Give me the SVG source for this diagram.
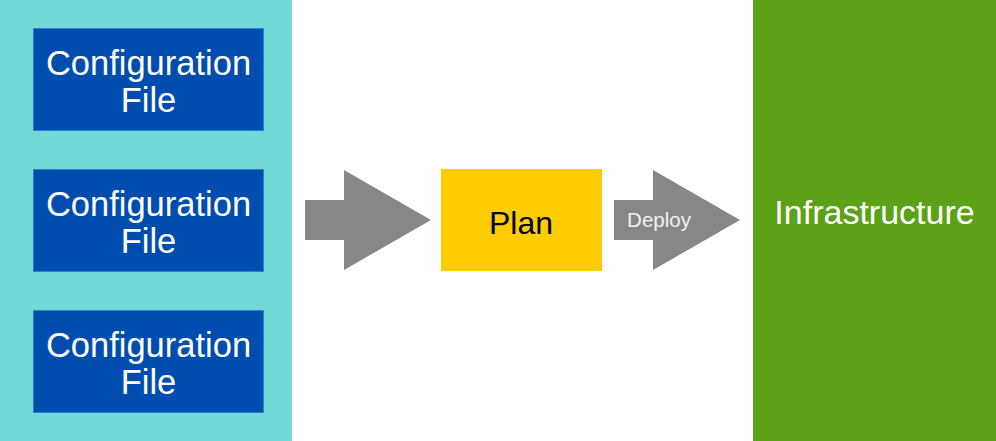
<svg xmlns="http://www.w3.org/2000/svg" width="996" height="441" viewBox="0 0 996 441">
<style>
text{font-family:"Liberation Sans",Arial,sans-serif;text-anchor:middle}
.cfg rect{fill:#004DAF;stroke:#2F7FC8;stroke-width:1}
.cfg text{fill:#fff;font-size:34.5px}
.arrow{fill:#878787}
</style>
<rect width="996" height="441" fill="#fff"/>
<g id="sources">
<rect x="0" y="0" width="292" height="441" fill="#72D9D9"/>
</g>
<g id="config1" class="cfg">
<rect x="33.5" y="28.5" width="230" height="102"/>
<text x="148.5" y="74.5">Configuration</text>
<text x="148.5" y="111.5">File</text>
</g>
<g id="config2" class="cfg">
<rect x="33.5" y="169.5" width="230" height="102"/>
<text x="148.5" y="215.5">Configuration</text>
<text x="148.5" y="252.5">File</text>
</g>
<g id="config3" class="cfg">
<rect x="33.5" y="310.5" width="230" height="102"/>
<text x="148.5" y="356.5">Configuration</text>
<text x="148.5" y="393.5">File</text>
</g>
<g id="connectors">
<polygon class="arrow" points="305,200 344,200 344,170 431,220 344,270 344,240 305,240"/>
<g id="deploy">
<polygon class="arrow" points="614,200 653,200 653,170 740,220 653,270 653,240 614,240"/>
<text x="659" y="227" fill="#F2F2F2" font-size="20.5px">Deploy</text>
</g>
</g>
<g id="plan">
<rect x="441" y="169" width="161" height="102" fill="#FFCC00"/>
<text x="521" y="234" fill="#000" font-size="32px">Plan</text>
</g>
<g id="infrastructure">
<rect x="753" y="0" width="243" height="441" fill="#5BA218"/>
<text x="874.5" y="224" fill="#fff" font-size="34px">Infrastructure</text>
</g>
</svg>
